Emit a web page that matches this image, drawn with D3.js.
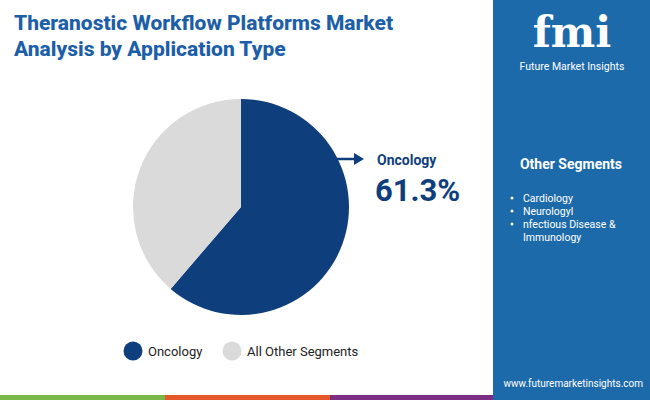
<!DOCTYPE html><html><head><meta charset="utf-8">
<script src="https://cdn.jsdelivr.net/npm/d3@7"></script>
<style>body{margin:0}svg{display:block;font-family:Roboto,"Open Sans",sans-serif}</style></head><body>
<svg id="c" width="650" height="400"></svg>
<script>
const categories=["Oncology","All Other Segments"];
const values=[61.3,38.7];
const colors=["#0e3f7c","#dadada"];
const otherSegments=["Cardiology","Neurologyl","nfectious Disease &","Immunology"];
const svg=d3.select("#c");
svg.append("rect").attr("width",650).attr("height",400).attr("fill","#fff");
svg.append("rect").attr("x",493).attr("width",157).attr("height",400).attr("fill","#1d6aaa");
[["#7ab648",0,165],["#e5582a",165,330],["#7b2e83",330,493]].forEach(([c,a,b])=>svg.append("rect").attr("x",a).attr("y",395).attr("width",b-a).attr("height",5).attr("fill",c));
const t=svg.append("text").attr("x",14).attr("fill","#1d5ea8").attr("font-size",21).attr("font-weight",800);
t.append("tspan").attr("x",14).attr("y",30).text("Theranostic Workflow Platforms Market");
t.append("tspan").attr("x",14).attr("y",56).text("Analysis by Application Type");
// logo
svg.append("text").attr("x",572).attr("y",47).attr("text-anchor","middle").attr("fill","#fff").attr("font-size",42).attr("font-weight",900).attr("font-family","DejaVu Serif").text("fmi");
svg.append("text").attr("x",572).attr("y",70).attr("text-anchor","middle").attr("fill","#fff").attr("font-size",10.5).text("Future Market Insights");
svg.append("text").attr("x",571).attr("y",169).attr("text-anchor","middle").attr("fill","#fff").attr("font-size",14).attr("font-weight",700).text("Other Segments");
otherSegments.forEach((s,i)=>{const y=202+i*13;
 if(i<3)svg.append("circle").attr("cx",512).attr("cy",y-4).attr("r",1.5).attr("fill","#fff");
 svg.append("text").attr("x",523).attr("y",y).attr("fill","#fff").attr("font-size",10.5).text(s);});
svg.append("text").attr("x",643).attr("y",387).attr("text-anchor","end").attr("fill","#fff").attr("font-size",10).text("www.futuremarketinsights.com");
// pie
const pie=d3.pie().sort(null)(values);
const arc=d3.arc().innerRadius(0).outerRadius(108);
svg.append("g").attr("transform","translate(241,207)").selectAll("path").data(pie).join("path").attr("d",arc).attr("fill",(d,i)=>colors[i]);
svg.append("line").attr("x1",334).attr("y1",159).attr("x2",356).attr("y2",159).attr("stroke","#0e3f7c").attr("stroke-width",2.5);
svg.append("path").attr("d","M354,153 L364,159 L354,165Z").attr("fill","#0e3f7c");
svg.append("text").attr("x",377).attr("y",165).attr("fill","#0e3f7c").attr("font-size",14).attr("font-weight",700).text(categories[0]);
svg.append("text").attr("x",375).attr("y",201).attr("fill","#0e3f7c").attr("font-size",31).attr("font-weight",700).text(values[0]+"%");
// legend
const lx=[133,232];
categories.forEach((c,i)=>{svg.append("circle").attr("cx",lx[i]).attr("cy",351).attr("r",9.5).attr("fill",colors[i]);
 svg.append("text").attr("x",lx[i]+15).attr("y",356).attr("fill","#222").attr("font-size",13).text(c);});
</script></body></html>
